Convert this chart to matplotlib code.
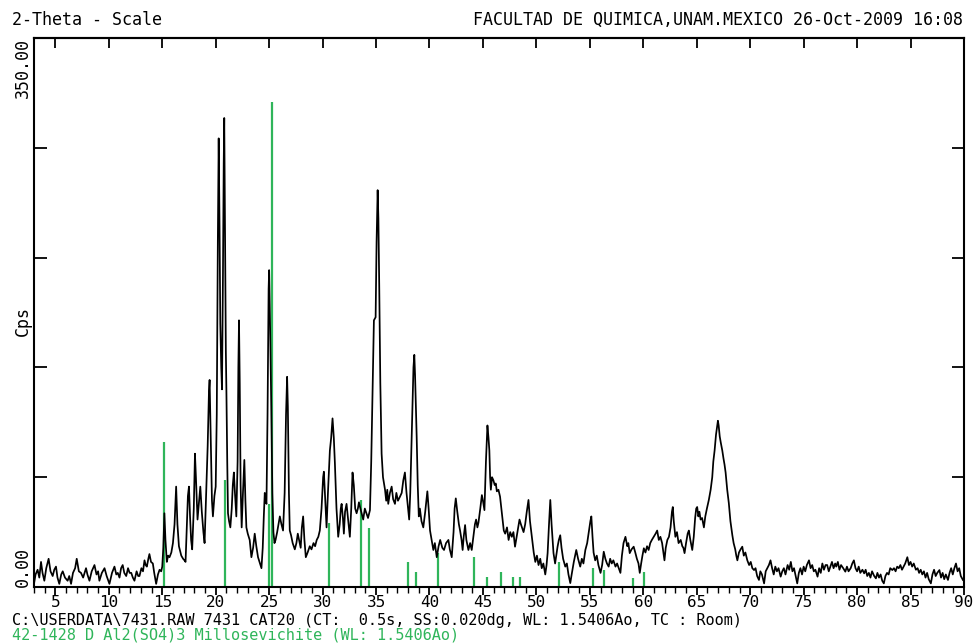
import matplotlib.pyplot as plt
import numpy as np

# difractograma (2-theta vs cps)
two_theta = [
    3.0, 3.15, 3.34, 3.5, 3.66, 3.8, 3.97, 4.15, 4.37, 4.55, 4.75, 4.9, 5.06, 5.2, 5.37, 5.55, 5.69, 5.9,
    6.15, 6.3, 6.47, 6.65, 6.85, 7.0, 7.2, 7.4, 7.6, 7.87, 8.0, 8.19, 8.4, 8.66, 8.85, 9.0, 9.12, 9.35,
    9.6, 9.8, 10.06, 10.3, 10.53, 10.7, 10.84, 11.0, 11.15, 11.3, 11.45, 11.63, 11.8, 11.95, 12.1, 12.25,
    12.4, 12.6, 12.75, 12.87, 13.05, 13.2, 13.34, 13.45, 13.56, 13.7, 13.8, 13.95, 14.12, 14.25, 14.43,
    14.6, 14.75, 14.9, 15.0, 15.1, 15.2, 15.3, 15.43, 15.55, 15.68, 15.85, 16.0, 16.15, 16.3, 16.42,
    16.56, 16.7, 16.78, 16.95, 17.08, 17.18, 17.3, 17.4, 17.5, 17.6, 17.7, 17.8, 17.95, 18.06, 18.15,
    18.3, 18.45, 18.56, 18.7, 18.85, 18.96, 19.1, 19.25, 19.37, 19.43, 19.55, 19.65, 19.74, 19.88, 20.0,
    20.1, 20.2, 20.28, 20.36, 20.43, 20.52, 20.59, 20.68, 20.75, 20.8, 20.87, 20.95, 21.0, 21.08, 21.15,
    21.25, 21.37, 21.5, 21.6, 21.7, 21.8, 21.93, 22.05, 22.12, 22.18, 22.25, 22.33, 22.43, 22.55, 22.68,
    22.78, 22.87, 23.0, 23.18, 23.34, 23.5, 23.65, 23.8, 23.96, 24.1, 24.28, 24.4, 24.5, 24.59, 24.68,
    24.75, 24.85, 24.95, 25.0, 25.08, 25.2, 25.3, 25.4, 25.5, 25.6, 25.75, 25.88, 26.0, 26.15, 26.3,
    26.45, 26.58, 26.68, 26.75, 26.85, 26.93, 27.05, 27.2, 27.4, 27.55, 27.68, 27.8, 27.95, 28.06, 28.18,
    28.3, 28.43, 28.6, 28.8, 28.96, 29.15, 29.3, 29.45, 29.6, 29.74, 29.9, 30.05, 30.12, 30.25, 30.37,
    30.5, 30.68, 30.8, 30.93, 31.05, 31.15, 31.3, 31.46, 31.6, 31.7, 31.78, 31.9, 31.99, 32.1, 32.24,
    32.4, 32.55, 32.68, 32.8, 32.92, 33.05, 33.18, 33.3, 33.4, 33.5, 33.65, 33.8, 33.95, 34.1, 34.25,
    34.43, 34.55, 34.68, 34.8, 34.96, 35.05, 35.15, 35.22, 35.3, 35.4, 35.52, 35.65, 35.84, 35.95, 36.05,
    36.14, 36.3, 36.46, 36.6, 36.77, 36.9, 37.05, 37.24, 37.4, 37.55, 37.7, 37.85, 38.0, 38.1, 38.2,
    38.35, 38.5, 38.58, 38.65, 38.8, 38.9, 39.0, 39.1, 39.25, 39.42, 39.6, 39.8, 39.92, 40.05, 40.2,
    40.36, 40.5, 40.68, 40.85, 41.0, 41.2, 41.36, 41.55, 41.77, 41.9, 42.08, 42.25, 42.35, 42.46, 42.6,
    42.75, 42.86, 43.0, 43.1, 43.2, 43.33, 43.45, 43.64, 43.8, 43.95, 44.1, 44.25, 44.36, 44.48, 44.58,
    44.75, 44.9, 45.0, 45.14, 45.28, 45.42, 45.52, 45.6, 45.67, 45.74, 45.85, 45.98, 46.1, 46.2, 46.3,
    46.45, 46.6, 46.72, 46.86, 46.95, 47.08, 47.25, 47.4, 47.55, 47.7, 47.85, 48.0, 48.15, 48.3, 48.42,
    48.55, 48.65, 48.8, 48.95, 49.1, 49.26, 49.4, 49.58, 49.75, 49.9, 50.05, 50.2, 50.36, 50.5, 50.65,
    50.83, 50.95, 51.05, 51.18, 51.3, 51.42, 51.6, 51.75, 51.9, 51.98, 52.1, 52.23, 52.35, 52.5, 52.7,
    52.85, 53.0, 53.17, 53.3, 53.5, 53.73, 53.9, 54.1, 54.25, 54.4, 54.58, 54.75, 54.9, 55.05, 55.14,
    55.25, 55.35, 55.5, 55.65, 55.8, 56.0, 56.15, 56.3, 56.45, 56.6, 56.76, 56.9, 57.05, 57.2, 57.4,
    57.55, 57.7, 57.86, 58.0, 58.15, 58.33, 58.5, 58.6, 58.73, 58.9, 59.1, 59.25, 59.4, 59.55, 59.67,
    59.8, 59.92, 60.05, 60.2, 60.35, 60.5, 60.65, 60.8, 60.98, 61.15, 61.3, 61.45, 61.6, 61.76, 61.88,
    61.98, 62.1, 62.25, 62.4, 62.55, 62.68, 62.76, 62.85, 63.0, 63.15, 63.3, 63.5, 63.65, 63.75, 63.86,
    64.0, 64.15, 64.26, 64.4, 64.58, 64.72, 64.85, 64.95, 65.04, 65.15, 65.25, 65.36, 65.5, 65.67, 65.8,
    65.95, 66.13, 66.3, 66.45, 66.55, 66.67, 66.8, 66.9, 66.98, 67.05, 67.15, 67.25, 67.39, 67.5, 67.6,
    67.7, 67.85, 68.0, 68.15, 68.33, 68.45, 68.6, 68.7, 68.8, 68.95, 69.1, 69.26, 69.4, 69.55, 69.73,
    69.9, 70.05, 70.2, 70.36, 70.5, 70.65, 70.82, 70.95, 71.1, 71.3, 71.45, 71.6, 71.75, 71.9, 72.05,
    72.2, 72.35, 72.5, 72.65, 72.85, 73.0, 73.15, 73.3, 73.5, 73.65, 73.8, 73.95, 74.1, 74.25, 74.4,
    74.55, 74.7, 74.85, 75.0, 75.15, 75.3, 75.5, 75.65, 75.8, 75.95, 76.1, 76.3, 76.45, 76.6, 76.75,
    76.9, 77.05, 77.2, 77.35, 77.5, 77.65, 77.8, 77.95, 78.05, 78.2, 78.35, 78.5, 78.7, 78.9, 79.05,
    79.2, 79.4, 79.55, 79.7, 79.85, 80.0, 80.15, 80.3, 80.5, 80.66, 80.8, 80.95, 81.1, 81.25, 81.4,
    81.6, 81.76, 81.9, 82.05, 82.2, 82.35, 82.5, 82.65, 82.8, 82.95, 83.1, 83.3, 83.45, 83.6, 83.75,
    83.9, 84.05, 84.2, 84.35, 84.5, 84.6, 84.7, 84.85, 85.0, 85.15, 85.3, 85.5, 85.66, 85.8, 85.95,
    86.1, 86.25, 86.4, 86.55, 86.7, 86.9, 87.05, 87.2, 87.35, 87.5, 87.7, 87.85, 88.0, 88.15, 88.3,
    88.5, 88.65, 88.8, 88.95, 89.1, 89.25, 89.4, 89.55, 89.7, 89.9,
]
cps = [
    2, 8, 11, 6, 16, 9, 4, 12, 18, 10, 7, 11, 13, 6, 2, 8, 10, 6,
    4, 7, 2, 9, 12, 18, 10, 9, 6, 12, 8, 4, 10, 14, 8, 10, 4, 9,
    12, 7, 2, 9, 13, 8, 9, 6, 12, 14, 9, 7, 12, 9, 9, 6,
    4, 10, 7, 7, 12, 10, 17, 14, 13, 18, 21, 16, 15, 9, 2,
    8, 11, 10, 13, 25, 47, 30, 16, 20, 19, 22, 28, 40, 64, 40,
    26, 22, 20, 18, 17, 16, 40, 58, 64, 45, 30, 24, 50, 85, 70,
    43, 55, 64, 48, 35, 28, 58, 90, 125, 132, 90, 55, 45, 58, 64,
    110, 220, 286, 230, 168, 140, 126, 200, 270, 299, 230, 150, 126, 80, 47,
    42, 38, 50, 65, 73, 60, 45, 80, 140, 170, 130, 65, 38, 60, 81,
    55, 38, 34, 30, 19, 25, 34, 26, 19, 16, 12, 25, 45, 60, 55,
    53, 110, 190, 202, 170, 115, 60, 35, 28, 30, 35, 40, 45, 40, 36,
    60, 110, 134, 115, 60, 36, 33, 28, 24, 28, 34, 30, 25, 38, 45,
    30, 19, 22, 26, 24, 28, 26, 30, 32, 36, 50, 70, 73.5, 55, 38,
    60, 87, 95, 107.5, 95, 79, 50, 32, 40, 50, 53, 44, 34, 48, 53,
    42, 32, 50, 73, 65, 50, 47, 50, 54, 51, 47, 43, 50, 47, 44,
    49, 80, 128, 170, 172, 220, 253, 235, 191, 130, 85, 70, 62, 55, 62,
    53, 60, 64, 56, 53, 60, 55, 57.6, 60, 68, 73, 60, 50, 43, 60,
    100, 140, 148, 135, 96, 65, 45, 50, 42, 38, 48, 61, 50, 36, 30,
    23.6, 28, 19, 26, 30, 25, 23.6, 28, 30, 24, 19, 35, 50, 56.5, 48,
    40, 36, 30, 23.6, 32, 39.5, 30, 23.6, 28, 23.6, 32, 40, 43, 38, 41,
    50, 58.6, 55, 49, 80, 103, 95, 87, 70, 62, 70, 68, 65, 66, 61,
    62, 57.6, 50, 41, 36, 34, 38, 30, 35, 32, 35, 25.7, 32, 38, 43,
    40, 38, 35, 40, 48, 55.5, 42, 32, 22, 16, 20, 14, 18, 12, 15,
    8, 14, 21.6, 40, 55.5, 40, 21.6, 15, 22, 25.7, 30, 33, 25, 18, 13,
    15, 8, 2.5, 8, 16, 23.6, 18, 13, 18, 15, 23.6, 28, 35, 42, 45,
    32, 22, 17, 20, 14, 9, 14, 22.5, 18, 15, 13, 18, 15, 17, 13,
    15, 12, 9, 20, 28, 32, 26, 28, 21.6, 24, 25.7, 22, 18, 15, 9,
    15, 20, 24.7, 22, 26, 23.6, 28, 30, 32, 34, 36, 30, 32, 28, 22,
    17, 25, 30, 32, 38, 48, 51, 42, 32, 35, 28, 30, 26, 25, 21.6,
    28, 34, 36, 30, 23.6, 32, 44, 50, 51, 45, 48, 43, 44, 38, 45,
    50, 55.5, 62, 70, 80, 87, 97, 102, 106, 103, 96, 92, 87, 82, 78,
    73, 62, 53.5, 42, 33, 28, 24, 20, 17, 22, 24, 25.7, 20, 22, 17,
    14, 16, 12, 10.8, 12, 7, 4.5, 10, 8, 2.3, 10, 12, 14, 17, 12,
    8, 13, 10, 12, 6.6, 10, 12, 8, 14, 11, 16, 10, 12, 7, 2.3,
    9, 12, 8, 13, 10, 14, 17, 12, 14, 10, 11, 6.6, 12, 9, 15,
    11, 14, 14, 10, 13, 16, 12, 15, 13, 16, 11, 14, 12, 9.8, 13,
    10, 12, 15, 17, 12, 10, 13, 9, 11, 8.7, 11, 7, 9, 6, 10,
    7, 5.5, 9, 6, 8, 4, 2.3, 7, 9, 8, 12, 10.8, 12, 10, 13,
    12, 14, 11, 13, 15, 17, 19, 14, 16, 13, 15, 11, 12, 9, 11,
    8, 10, 6, 9, 5, 2.3, 8, 11, 7, 9, 10.8, 6, 9, 5, 8,
    4.5, 9, 12, 8, 12, 15, 10, 12, 7, 4.5,
]

# patron de referencia 42-1428 (Millosevichite)
ref_pos = [15.15, 20.9, 25.0, 25.3, 30.6, 33.55, 34.3, 38.0, 38.77, 40.83,
           44.2, 45.4, 46.65, 47.8, 48.46, 52.1, 55.26, 56.3, 59.0, 60.1]
ref_int = [92.6, 68, 53, 309, 41, 55.5, 37.6, 16, 9.8, 21.6,
           19.3, 6.6, 9.8, 6.6, 6.6, 16, 12, 10.8, 6, 9.8]

x_ticks = [5, 10, 15, 20, 25, 30, 35, 40, 45, 50, 55, 60, 65, 70, 75, 80, 85, 90]

verde = '#2fb55a'
plt.rcParams['font.family'] = ['DejaVu Sans Mono']

fig = plt.figure(figsize=(9.76, 6.44), dpi=100)
ax = fig.add_axes([0.0348, 0.0885, 0.9529, 0.8525])

ax.vlines(ref_pos, 0, ref_int, color=verde, lw=1.6, zorder=1)
ax.plot(two_theta, cps, color='black', lw=1.25, zorder=2)

ax.set_xlim(3, 90)
ax.set_ylim(0, 350)

for s in ax.spines.values():
    s.set_linewidth(1.5)

ax.set_xticks(x_ticks)
ax.set_xticklabels([str(t) for t in x_ticks], fontsize=11.5)
ax.set_xticks(np.arange(3, 91, 1), minor=True)
ax.tick_params(axis='x', which='major', direction='out', length=6, width=1.3, pad=0)
ax.tick_params(axis='x', which='minor', direction='out', length=4, width=1.0)

top = ax.secondary_xaxis('top')
top.set_xticks(x_ticks[:-1])
top.tick_params(direction='in', length=7, width=1.3, labeltop=False)
top.spines['top'].set_linewidth(1.5)

ax.set_yticks([70, 140, 210, 280])
ax.tick_params(axis='y', direction='in', length=9, width=1.3, left=True, right=True,
               labelleft=False)

ax.text(-0.012, 1.0, '350.00', transform=ax.transAxes, rotation=90, ha='center', va='top', fontsize=12)
ax.text(-0.012, 0.0, '0.00', transform=ax.transAxes, rotation=90, ha='center', va='bottom', fontsize=12)
ax.text(-0.012, 0.485, 'Cps', transform=ax.transAxes, rotation=90, ha='center', va='center', fontsize=12)

fig.text(12 / 976, 1 - 20 / 644, '2-Theta - Scale', ha='left', va='center', fontsize=12)
fig.text(963 / 976, 1 - 20 / 644, 'FACULTAD DE QUIMICA,UNAM.MEXICO 26-Oct-2009 16:08',
         ha='right', va='center', fontsize=12)
fig.text(12 / 976, 1 - 620 / 644,
         'C:\\USERDATA\\7431.RAW 7431 CAT20 (CT:  0.5s, SS:0.020dg, WL: 1.5406Ao, TC : Room)',
         ha='left', va='center', fontsize=11)
fig.text(12 / 976, 1 - 635.5 / 644, '42-1428 D Al2(SO4)3 Millosevichite (WL: 1.5406Ao)',
         ha='left', va='center', fontsize=11, color=verde)

plt.savefig('out.png', dpi=100)
